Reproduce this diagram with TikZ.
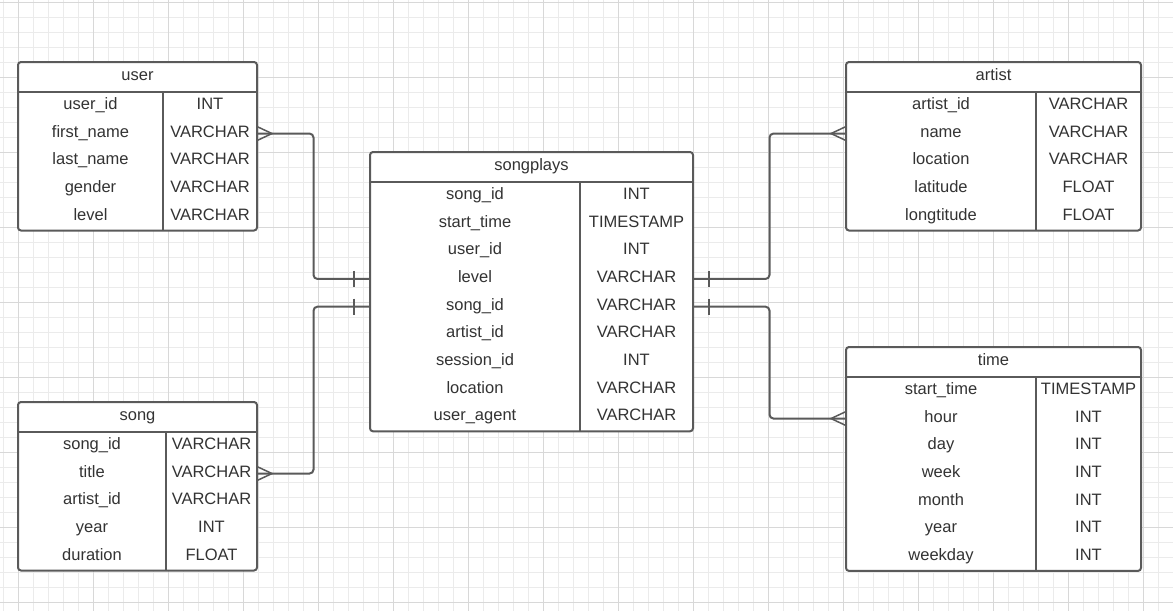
\documentclass[tikz,border=0pt]{standalone}
\usepackage{fontspec}
\setmainfont{Liberation Sans}
\usetikzlibrary{calc}
\definecolor{lineC}{HTML}{5A5A5A}
\definecolor{textC}{HTML}{333333}
\definecolor{gridMinor}{HTML}{EBEBEB}
\definecolor{gridMajor}{HTML}{D8D8D8}
\tikzset{
  tabbox/.style={draw=lineC, line width=2pt, rounded corners=3pt, fill=white, inner sep=0pt, outer sep=0pt},
  tabline/.style={draw=lineC, line width=2pt},
  txt/.style={text=textC, font=\fontsize{16.5}{20}\selectfont, inner sep=0pt, text height=12pt, text depth=5pt},
  conn/.style={draw=lineC, line width=2pt, rounded corners=4pt},
  markline/.style={draw=lineC, line width=1.5pt},
}
\newcommand\erdtab[8]{%
  \pgfmathsetmacro\tabh{30+#6*27.7}%
  \node[tabbox, anchor=north west, minimum width=#4pt, minimum height=\tabh pt] (#1) at (#2,#3) {};
  \draw[tabline] ($(#1.north west)+(0,30)$) -- ($(#1.north east)+(0,30)$);
  \draw[tabline] ($(#1.north west)+(#5,30)$) -- ($(#1.south west)+(#5,0)$);
  \node[txt] (#1-t) at ($(#1.north)+(0,14.8)$) {#7};
  \foreach \f/\ty [count=\i] in {#8} {
    \node[txt] (#1-\i) at ($(#1.north west)+({#5/2},{30+(\i-0.5)*27.7})$) {\f};
    \node[txt] (#1-\i t) at ($(#1.north west)+({(#5+#4)/2},{30+(\i-0.5)*27.7})$) {\ty};
  }%
}
\begin{document}
\begin{tikzpicture}[x=1pt,y=-1pt]
\useasboundingbox (0,0) rectangle (1173,611);
\fill[white] (0,0) rectangle (1173,611);
% grid
\foreach \x in {3,18,...,1173} \draw[gridMinor, line width=1pt] (\x,0) -- (\x,611);
\foreach \y in {2,17,...,611} \draw[gridMinor, line width=1pt] (0,\y) -- (1173,\y);
\foreach \x in {18,93,...,1173} \draw[gridMajor, line width=1pt] (\x,0) -- (\x,611);
\foreach \y in {2,77,...,611} \draw[gridMajor, line width=1pt] (0,\y) -- (1173,\y);

\erdtab{user}{18}{62}{239}{145}{5}{user}{user\_id/INT, first\_name/VARCHAR, last\_name/VARCHAR, gender/VARCHAR, level/VARCHAR}
\erdtab{artist}{846}{62}{295}{190}{5}{artist}{artist\_id/VARCHAR, name/VARCHAR, location/VARCHAR, latitude/FLOAT, longtitude/FLOAT}
\erdtab{songplays}{370}{152}{323}{210}{9}{songplays}{song\_id/INT, start\_time/TIMESTAMP, user\_id/INT, level/VARCHAR, song\_id/VARCHAR, artist\_id/VARCHAR, session\_id/INT, location/VARCHAR, user\_agent/VARCHAR}
\erdtab{song}{18}{402}{239}{148}{5}{song}{song\_id/VARCHAR, title/VARCHAR, artist\_id/VARCHAR, year/INT, duration/FLOAT}
\erdtab{time}{846}{347}{295}{190}{7}{time}{start\_time/TIMESTAMP, hour/INT, day/INT, week/INT, month/INT, year/INT, weekday/INT}

% connector anchor points
\coordinate (uA) at (user.east |- user-2);
\coordinate (spL4) at (songplays.west |- songplays-4);
\coordinate (spL5) at (songplays.west |- songplays-5);
\coordinate (spR4) at (songplays.east |- songplays-4);
\coordinate (spR5) at (songplays.east |- songplays-5);
\coordinate (sA) at (song.east |- song-2);
\coordinate (aA) at (artist.west |- artist-2);
\coordinate (tA) at (time.west |- time-2);
\coordinate (mL) at ($(user.east)!.5!(songplays.west)$);
\coordinate (mR) at ($(songplays.east)!.5!(artist.west)$);

\draw[conn] (uA) -| (mL |- spL4) -- (spL4);
\draw[conn] (sA) -| (mL |- spL5) -- (spL5);
\draw[conn] (aA) -| (mR |- spR4) -- (spR4);
\draw[conn] (tA) -| (mR |- spR5) -- (spR5);

% crow's feet
\foreach \p/\d in {uA/1, sA/1, aA/-1, tA/-1} {
  \draw[markline] ($(\p)+(0,-7)$) -- ($(\p)+(15*\d,0)$) -- ($(\p)+(0,7)$);
}
% one bars
\foreach \p/\d in {spL4/-1, spL5/-1, spR4/1, spR5/1} {
  \draw[markline] ($(\p)+(16*\d,-8)$) -- ($(\p)+(16*\d,8)$);
}
\end{tikzpicture}
\end{document}
